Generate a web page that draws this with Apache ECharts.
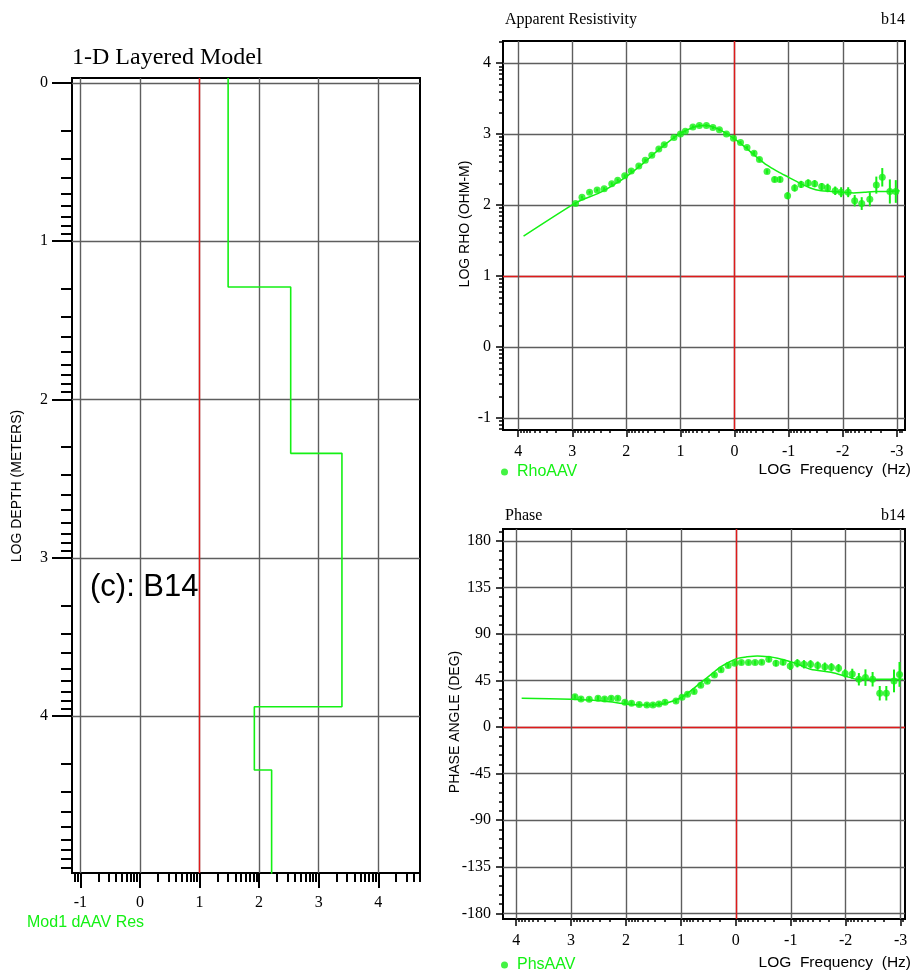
<!DOCTYPE html>
<html><head><meta charset="utf-8">
<script src="https://cdn.jsdelivr.net/npm/echarts@6/dist/echarts.min.js"></script>
<style>html,body{margin:0;padding:0;background:#fff}#c{width:911px;height:970px}</style>
</head><body><div id="c"></div>
<script>
// ---------------- data ----------------
// 1-D layered model: log10 resistivity of each layer and log10 depth of each layer top
const layerRes = [1.48, 2.53, 3.39, 1.92, 2.21];
const layerTop = [0, 1.29, 2.34, 3.94, 4.34];

// Apparent resistivity (log rho) observations
const rhoFreq = [2.94, 2.82, 2.68, 2.54, 2.41, 2.27, 2.16, 2.03, 1.91, 1.77, 1.65, 1.53, 1.40, 1.30, 1.12, 1.00, 0.91, 0.77, 0.65, 0.52, 0.40, 0.28, 0.15, 0.02, -0.11, -0.23, -0.36, -0.46, -0.60, -0.74, -0.84, -0.98, -1.11, -1.23, -1.36, -1.48, -1.61, -1.72, -1.86, -1.97, -2.10, -2.22, -2.35, -2.50, -2.62, -2.73, -2.87, -2.98];
const rhoVal  = [2.02, 2.11, 2.18, 2.21, 2.23, 2.30, 2.35, 2.41, 2.48, 2.55, 2.63, 2.70, 2.79, 2.85, 2.95, 3.00, 3.04, 3.10, 3.12, 3.12, 3.09, 3.06, 3.00, 2.94, 2.88, 2.81, 2.73, 2.64, 2.47, 2.36, 2.36, 2.13, 2.24, 2.29, 2.31, 2.30, 2.26, 2.24, 2.20, 2.18, 2.18, 2.06, 2.02, 2.08, 2.28, 2.39, 2.19, 2.19];
const rhoErr  = [0.02, 0.02, 0.02, 0.02, 0.02, 0.02, 0.02, 0.02, 0.02, 0.02, 0.02, 0.02, 0.02, 0.02, 0.02, 0.02, 0.02, 0.02, 0.02, 0.02, 0.02, 0.02, 0.02, 0.02, 0.02, 0.02, 0.03, 0.03, 0.03, 0.04, 0.04, 0.05, 0.05, 0.05, 0.05, 0.05, 0.05, 0.06, 0.06, 0.07, 0.07, 0.08, 0.09, 0.10, 0.12, 0.13, 0.17, 0.16];
// model response (log rho)
const rhoModelFreq = [3.9, 3.0, 2.8, 2.5, 2.2, 2.0, 1.7, 1.4, 1.1, 0.9, 0.7, 0.55, 0.4, 0.2, 0.0, -0.2, -0.4, -0.6, -0.8, -1.0, -1.2, -1.4, -1.6, -1.8, -2.0, -2.2, -2.4, -2.6, -2.8, -3.05];
const rhoModelVal  = [1.56, 2.0, 2.08, 2.17, 2.30, 2.40, 2.58, 2.78, 2.96, 3.05, 3.11, 3.12, 3.10, 3.03, 2.93, 2.81, 2.68, 2.56, 2.47, 2.39, 2.31, 2.24, 2.20, 2.19, 2.18, 2.17, 2.18, 2.19, 2.19, 2.20];

// Phase observations (degrees)
const phsFreq = [2.93, 2.82, 2.67, 2.51, 2.39, 2.27, 2.15, 2.02, 1.90, 1.76, 1.62, 1.51, 1.40, 1.29, 1.09, 0.98, 0.88, 0.76, 0.64, 0.52, 0.39, 0.27, 0.14, 0.02, -0.10, -0.23, -0.35, -0.47, -0.60, -0.73, -0.86, -0.99, -1.12, -1.24, -1.36, -1.49, -1.62, -1.74, -1.87, -1.99, -2.12, -2.24, -2.36, -2.49, -2.62, -2.74, -2.88, -2.98];
const phsVal  = [29.5, 27.3, 27.0, 28.0, 27.3, 28.0, 28.0, 24.0, 23.0, 22.0, 21.5, 21.5, 22.4, 24.0, 25.3, 29.0, 31.8, 34.4, 40.5, 44.3, 50.5, 55.5, 59.5, 61.8, 62.4, 62.4, 62.4, 62.8, 65.7, 61.8, 62.8, 59.2, 61.8, 60.8, 60.8, 59.5, 58.5, 57.9, 57.0, 52.0, 51.5, 46.3, 47.9, 46.3, 32.8, 32.8, 44.7, 51.0];
const phsErr  = [2, 2, 2, 2, 2, 2, 2, 2, 2, 2, 2, 2, 2, 2, 2, 2, 2, 2, 2, 2, 2, 2, 2, 2, 2, 2, 2, 2, 3, 3, 3, 4, 4, 4, 4, 4, 4, 4, 4, 4, 5, 6, 8, 7, 7, 7, 11, 12];
// model response (phase)
const phsModelFreq = [3.9, 3.0, 2.6, 2.3, 2.0, 1.7, 1.4, 1.1, 0.9, 0.64, 0.45, 0.27, 0.1, -0.03, -0.2, -0.39, -0.6, -0.76, -0.95, -1.12, -1.36, -1.73, -2.03, -2.21, -3.05];
const phsModelVal  = [28, 27, 26, 24.5, 22.5, 21.5, 22, 26, 32, 43, 51, 58.5, 63.5, 66.5, 68, 68.9, 68, 66.6, 64, 61.1, 56, 53, 48.8, 46.3, 46.3];

// tick labels
const depthTicks = [0, 1, 2, 3, 4];
const resTicks = [-1, 0, 1, 2, 3, 4];
const freqTicks = [4, 3, 2, 1, 0, -1, -2, -3];
const rhoTicks = [-1, 0, 1, 2, 3, 4];
const phsTicks = [-180, -135, -90, -45, 0, 45, 90, 135, 180];

// ---------------- styling / helpers ----------------
const G = '#14f014';
const GRID_C = '#5e5e5e';
const RED = '#e01a1a';
const SERIF = 'Liberation Serif';
const SANS = 'Liberation Sans';

function logMinor(lo, hi) {
  const out = [];
  for (let d = Math.floor(lo) - 1; d <= Math.ceil(hi); d++)
    for (let k = 2; k <= 9; k++) {
      const v = d + Math.log10(k);
      if (v >= lo && v <= hi) out.push(v);
    }
  return out;
}
function linMinor(lo, hi, step, major) {
  const out = [];
  for (let v = Math.ceil(lo / step) * step; v <= hi; v += step)
    if (major.indexOf(v) < 0) out.push(v);
  return out;
}
function axis(o) {
  return {
    type: 'value', gridIndex: o.grid, min: o.min, max: o.max, inverse: !!o.inverse,
    position: o.pos,
    axisLine: { show: false, onZero: false },
    axisTick: { show: o.tickLen > 0, customValues: o.ticks, length: o.tickLen || 0, inside: false,
                lineStyle: { color: '#000', width: o.tickW || 1.5 } },
    axisLabel: o.labels ? { show: true, customValues: o.labels, margin: o.margin, color: '#000',
                fontFamily: SERIF, fontSize: 16 } : { show: false },
    splitLine: o.split ? { show: true, lineStyle: { color: o.split, width: 1.4 } } : { show: false },
    z: o.z || 0
  };
}

const D_MIN = -0.03, D_MAX = 4.99;
const R_MIN = -1.14, R_MAX = 4.70;
const F1_MIN = -3.15, F1_MAX = 4.28;
const RHO_MIN = -1.17, RHO_MAX = 4.31;
const F2_MIN = -3.08, F2_MAX = 4.24;
const P_MIN = -185.5, P_MAX = 191.6;

// step line of the layered model
const stepData = [];
for (let i = 0; i < layerRes.length; i++) {
  const top = i === 0 ? D_MIN : layerTop[i];
  const bot = i + 1 < layerTop.length ? layerTop[i + 1] : D_MAX + 0.1;
  stepData.push([layerRes[i], top], [layerRes[i], bot]);
}
const zip = (a, b) => a.map((v, i) => [v, b[i]]);
const zip3 = (a, b, c) => a.map((v, i) => [v, b[i], c[i]]);

function errRender(params, api) {
  const x = api.value(0), y = api.value(1), e = api.value(2);
  const p1 = api.coord([x, y - e]), p2 = api.coord([x, y + e]);
  return { type: 'line', shape: { x1: p1[0], y1: p1[1], x2: p2[0], y2: p2[1] },
           style: { stroke: G, lineWidth: 2 } };
}

const xAxes = [
  axis({ grid: 0, min: R_MIN, max: R_MAX, pos: 'bottom', ticks: resTicks, tickLen: 15, tickW: 2, labels: resTicks, margin: 22, split: GRID_C }),
  axis({ grid: 0, min: R_MIN, max: R_MAX, pos: 'bottom', ticks: logMinor(R_MIN, R_MAX), tickLen: 9, tickW: 2 }),
  axis({ grid: 0, min: R_MIN, max: R_MAX, pos: 'bottom', ticks: [1], tickLen: 0, split: RED }),
  axis({ grid: 1, min: F1_MIN, max: F1_MAX, inverse: true, pos: 'bottom', ticks: freqTicks, tickLen: 7, labels: freqTicks, margin: 14, split: GRID_C }),
  axis({ grid: 1, min: F1_MIN, max: F1_MAX, inverse: true, pos: 'bottom', ticks: logMinor(F1_MIN, F1_MAX), tickLen: 3 }),
  axis({ grid: 1, min: F1_MIN, max: F1_MAX, inverse: true, pos: 'bottom', ticks: [0], tickLen: 0, split: RED }),
  axis({ grid: 2, min: F2_MIN, max: F2_MAX, inverse: true, pos: 'bottom', ticks: freqTicks, tickLen: 7, labels: freqTicks, margin: 14, split: GRID_C }),
  axis({ grid: 2, min: F2_MIN, max: F2_MAX, inverse: true, pos: 'bottom', ticks: logMinor(F2_MIN, F2_MAX), tickLen: 3 }),
  axis({ grid: 2, min: F2_MIN, max: F2_MAX, inverse: true, pos: 'bottom', ticks: [0], tickLen: 0, split: RED })
];
const yAxes = [
  axis({ grid: 0, min: D_MIN, max: D_MAX, inverse: true, pos: 'left', ticks: depthTicks, tickLen: 20, tickW: 2, labels: depthTicks, margin: 24, split: GRID_C }),
  axis({ grid: 0, min: D_MIN, max: D_MAX, inverse: true, pos: 'left', ticks: logMinor(D_MIN, D_MAX), tickLen: 11, tickW: 2 }),
  axis({ grid: 1, min: RHO_MIN, max: RHO_MAX, pos: 'left', ticks: rhoTicks, tickLen: 7, labels: rhoTicks, margin: 12, split: GRID_C }),
  axis({ grid: 1, min: RHO_MIN, max: RHO_MAX, pos: 'left', ticks: logMinor(RHO_MIN, RHO_MAX), tickLen: 4 }),
  axis({ grid: 1, min: RHO_MIN, max: RHO_MAX, pos: 'left', ticks: [1], tickLen: 0, split: RED }),
  axis({ grid: 2, min: P_MIN, max: P_MAX, pos: 'left', ticks: phsTicks, tickLen: 7, labels: phsTicks, margin: 12, split: GRID_C }),
  axis({ grid: 2, min: P_MIN, max: P_MAX, pos: 'left', ticks: linMinor(P_MIN, P_MAX, 9, phsTicks), tickLen: 4 }),
  axis({ grid: 2, min: P_MIN, max: P_MAX, pos: 'left', ticks: [0], tickLen: 0, split: RED })
];

const txt = (x, y, text, font, opt) => ({
  type: 'text', x: x, y: y, silent: true, z: 100,
  style: Object.assign({ text: text, font: font, fill: '#000', align: 'left', verticalAlign: 'middle' }, opt || {})
});
const rot = (x, y, text, font) => ({
  type: 'text', x: x, y: y, rotation: Math.PI / 2, silent: true, z: 100,
  style: { text: text, font: font, fill: '#000', align: 'center', verticalAlign: 'middle' }
});

const option = {
  animation: false,
  backgroundColor: '#fff',
  grid: [
    { left: 72, top: 78, width: 348, height: 795, show: true, borderColor: '#000', borderWidth: 2, backgroundColor: 'transparent' },
    { left: 503, top: 41, width: 402, height: 389, show: true, borderColor: '#000', borderWidth: 2, backgroundColor: 'transparent' },
    { left: 503, top: 529, width: 402, height: 390, show: true, borderColor: '#000', borderWidth: 2, backgroundColor: 'transparent' }
  ],
  xAxis: xAxes,
  yAxis: yAxes,
  legend: [
    { data: ['RhoAAV'], left: 496, top: 459, icon: 'circle', itemWidth: 7, itemHeight: 7, selectedMode: false,
      textStyle: { color: G, fontSize: 16, fontFamily: SANS, padding: [0, 0, 0, 4] } },
    { data: ['PhsAAV'], left: 496, top: 952, icon: 'circle', itemWidth: 7, itemHeight: 7, selectedMode: false,
      textStyle: { color: G, fontSize: 16, fontFamily: SANS, padding: [0, 0, 0, 4] } }
  ],
  graphic: [
    txt(72, 58, '1-D Layered Model', '24px "Liberation Serif"'),
    txt(90, 587, '(c): B14', '31px "Liberation Sans"'),
    txt(27, 923, 'Mod1 dAAV Res', '16px "Liberation Sans"', { fill: G }),
    rot(17, 486, 'LOG DEPTH (METERS)', '14px "Liberation Sans"'),
    txt(505, 20, 'Apparent Resistivity', '16px "Liberation Serif"'),
    txt(905, 20, 'b14', '16px "Liberation Serif"', { align: 'right' }),
    rot(465, 224, 'LOG RHO (OHM-M)', '14px "Liberation Sans"'),
    txt(911, 470, 'LOG  Frequency  (Hz)', '15.5px "Liberation Sans"', { align: 'right' }),
    txt(505, 516, 'Phase', '16px "Liberation Serif"'),
    txt(905, 516, 'b14', '16px "Liberation Serif"', { align: 'right' }),
    rot(455, 722, 'PHASE ANGLE (DEG)', '14px "Liberation Sans"'),
    txt(911, 963, 'LOG  Frequency  (Hz)', '15.5px "Liberation Sans"', { align: 'right' })
  ],
  series: [
    { type: 'line', name: 'Mod1', xAxisIndex: 0, yAxisIndex: 0, data: stepData, symbol: 'none', silent: true,
      lineStyle: { color: G, width: 1.6 }, z: 3 },
    { type: 'line', name: 'RhoModel', xAxisIndex: 3, yAxisIndex: 2, data: zip(rhoModelFreq, rhoModelVal), smooth: 0.3,
      symbol: 'none', silent: true, lineStyle: { color: G, width: 1.5 }, z: 3 },
    { type: 'custom', name: 'RhoErr', xAxisIndex: 3, yAxisIndex: 2, data: zip3(rhoFreq, rhoVal, rhoErr),
      renderItem: errRender, silent: true, z: 4 },
    { type: 'scatter', name: 'RhoAAV', xAxisIndex: 3, yAxisIndex: 2, data: zip(rhoFreq, rhoVal), symbol: 'circle',
      symbolSize: 7, itemStyle: { color: G }, silent: true, z: 5 },
    { type: 'line', name: 'PhsModel', xAxisIndex: 6, yAxisIndex: 5, data: zip(phsModelFreq, phsModelVal), smooth: 0.3,
      symbol: 'none', silent: true, lineStyle: { color: G, width: 1.5 }, z: 3 },
    { type: 'custom', name: 'PhsErr', xAxisIndex: 6, yAxisIndex: 5, data: zip3(phsFreq, phsVal, phsErr),
      renderItem: errRender, silent: true, z: 4 },
    { type: 'scatter', name: 'PhsAAV', xAxisIndex: 6, yAxisIndex: 5, data: zip(phsFreq, phsVal), symbol: 'circle',
      symbolSize: 7, itemStyle: { color: G }, silent: true, z: 5 }
  ]
};
const chart = echarts.init(document.getElementById('c'), null, { renderer: 'canvas' });
chart.setOption(option);
</script></body></html>
